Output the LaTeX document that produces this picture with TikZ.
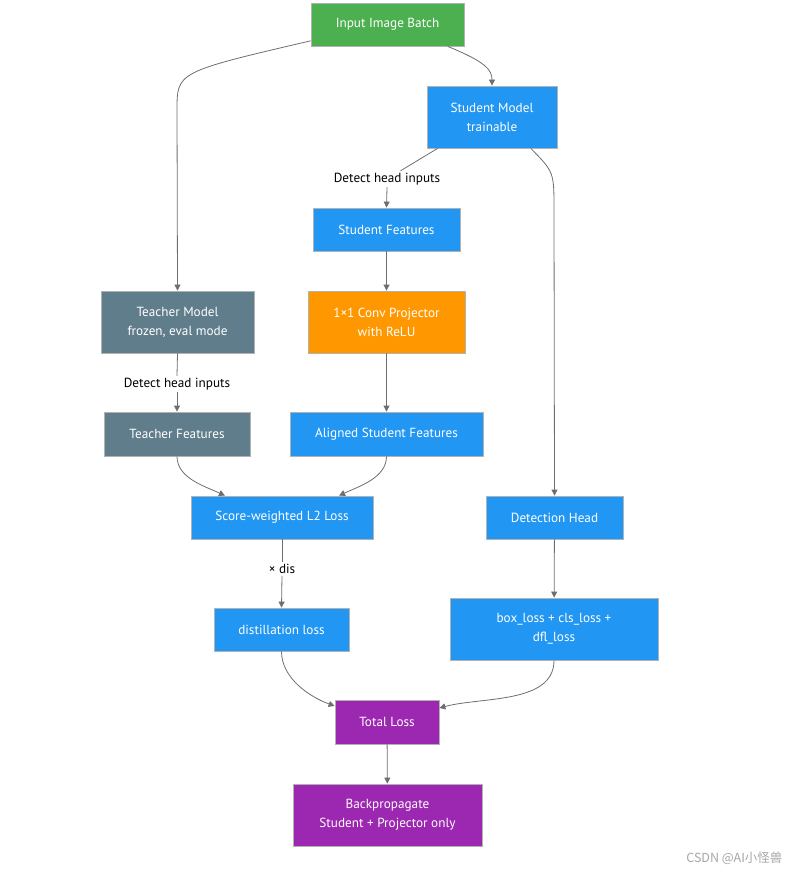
\documentclass[tikz,border=0pt]{standalone}
\usepackage{fontspec}
\setmainfont{PT Sans}
\newfontfamily\cjk{Noto Sans CJK SC}
\usetikzlibrary{arrows.meta}
\definecolor{cgreen}{HTML}{4CAF50}
\definecolor{cblue}{HTML}{2196F3}
\definecolor{cslate}{HTML}{607D8B}
\definecolor{corange}{HTML}{FF9800}
\definecolor{cpurple}{HTML}{9C27B0}
\definecolor{cedge}{HTML}{6E6E6E}
\tikzset{
  box/.style={draw=black!30, line width=0.8pt, text=white, align=center, inner sep=0pt,
    font=\fontsize{13.2}{19}\selectfont},
  lbl/.style={fill=white, text=black, inner sep=2pt, font=\fontsize{13.2}{15}\selectfont},
  arr/.style={draw=cedge, line width=0.8pt, -{Triangle[length=6pt,width=6pt]}},
  ln/.style={draw=cedge, line width=0.8pt},
}
\begin{document}
\begin{tikzpicture}[x=1pt,y=-1pt]
\useasboundingbox (0,0) rectangle (790,872);
% nodes
\node[box, fill=cgreen, minimum width=153, minimum height=43] (inp) at (387.5,24.5) {Input Image Batch};
\node[box, fill=cblue, minimum width=130, minimum height=62] (stu) at (492,117) {Student Model\\trainable};
\node[box, fill=cblue, minimum width=147, minimum height=43] (sf) at (386.5,229.5) {Student Features};
\node[box, fill=cslate, minimum width=153, minimum height=62] (tm) at (177.5,322) {Teacher Model\\frozen, eval mode};
\node[box, fill=corange, minimum width=157, minimum height=62] (pj) at (386.5,322) {1×1 Conv Projector\\with ReLU};
\node[box, fill=cslate, minimum width=146, minimum height=44] (tf) at (177,434) {Teacher Features};
\node[box, fill=cblue, minimum width=193, minimum height=44] (al) at (386.5,434) {Aligned Student Features};
\node[box, fill=cblue, minimum width=182, minimum height=43] (sc) at (282,517.5) {Score-weighted L2 Loss};
\node[box, fill=cblue, minimum width=137, minimum height=43] (dh) at (554.5,517.5) {Detection Head};
\node[box, fill=cblue, minimum width=135, minimum height=43] (dl) at (281.5,629.5) {distillation loss};
\node[box, fill=cblue, minimum width=208, minimum height=62] (bl) at (554,629) {box\_loss + cls\_loss +\\dfl\_loss};
\node[box, fill=cpurple, minimum width=104, minimum height=44] (tot) at (387,722) {Total Loss};
\node[box, fill=cpurple, minimum width=189, minimum height=62] (bp) at (387.5,815) {Backpropagate\\Student + Projector only};
% labels
\node[lbl] (l1) at (387,179) {Detect head inputs};
\node[lbl] (l2) at (177,384) {Detect head inputs};
\node[lbl] (l3) at (282,569) {× dis};
% edges
\draw[arr] (inp.-20) .. controls (486,62) and (492,70) .. (stu.north);
\draw[arr] (inp.192) .. controls (177,72) .. (177,110) -- (tm.north);
\draw[ln] (stu.-150) -- (l1);
\draw[arr] (l1.south) -- (sf.north);
\draw[arr] (stu.-39) .. controls (554,172) .. (554,210) -- (dh.north);
\draw[arr] (sf) -- (pj);
\draw[ln] (tm.south) -- (l2.north);
\draw[arr] (l2.south) -- (tf.north);
\draw[arr] (pj) -- (al);
\draw[arr] (tf.south) to[out=-90, in=155, looseness=0.9] (sc.159);
\draw[arr] (al.south) to[out=-90, in=25, looseness=0.9] (sc.21);
\draw[ln] (sc.south) -- (l3.north);
\draw[arr] (l3.south) -- (dl.north);
\draw[arr] (dh) -- (bl);
\draw[arr] (dl.south) to[out=-90, in=160, looseness=0.9] (tot.163);
\draw[arr] (bl.south) to[out=-90, in=15, looseness=0.9] (tot.15);
\draw[arr] (tot) -- (bp);
% watermark
\node[text=black!35, font=\cjk\fontsize{12.5}{14}\selectfont, anchor=east] (wm) at (786,858) {CSDN @AI小怪兽};
\end{tikzpicture}
\end{document}
